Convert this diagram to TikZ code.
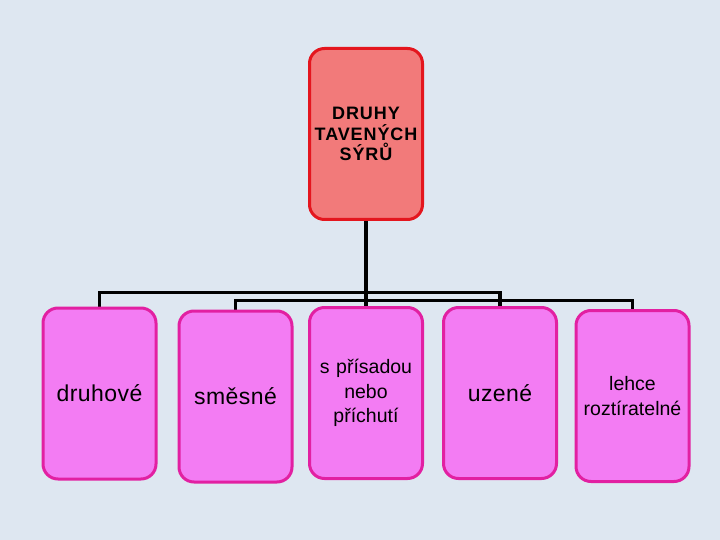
\documentclass[tikz,border=0pt]{standalone}
\usepackage{fontspec}
\setmainfont{Liberation Sans}
\newfontfamily\capsfont[LetterSpace=5]{Liberation Sans}
\newfontfamily\widefont[LetterSpace=2]{Liberation Sans}
\usetikzlibrary{backgrounds}
\definecolor{slide}{RGB}{222,231,241}
\definecolor{rootfill}{RGB}{242,122,122}
\definecolor{rootline}{RGB}{228,22,30}
\definecolor{kindfill}{RGB}{243,124,243}
\definecolor{kindline}{RGB}{226,32,162}

\begin{document}
\begin{tikzpicture}[x=1pt, y=-1pt,
  box/.style={rectangle, rounded corners=15pt, line width=3pt,
    minimum width=113pt, minimum height=171pt, inner sep=0pt,
    text width=113pt, align=center},
  root/.style={box, fill=rootfill, draw=rootline,
    font=\capsfont\fontsize{18}{20.5}\selectfont\bfseries},
  kind/.style={box, fill=kindfill, draw=kindline},
  big/.style={font=\widefont\fontsize{23}{26}\selectfont},
  small/.style={font=\fontsize{19.5}{24.5}\selectfont},
  conn/.style={black, line width=3.5pt}]
\useasboundingbox (0,0) rectangle (720,540);
% top box
\node[root] (druhy) at (366,134) {DRUHY\\TAVENÝCH\\SÝRŮ};
% kinds of cheese
\node[kind, big] (druh) at (99.5,393.5) {druhové};
\node[kind, big] (smes) at (235.5,396.5) {směsné};
\node[kind, small] (pris) at (366,393) {s přísadou\\nebo\\příchutí};
\node[kind, big] (uzen) at (500,393) {uzené};
\node[kind, small] (lehc) at (632.5,396) {lehce\\roztíratelné};
% connectors behind the boxes
\begin{scope}[on background layer]
  \fill[slide] (0,0) rectangle (720,540);
  \draw[conn] (druhy.south) -- (pris.north);
  \draw[conn] (druh.north) -- ++(0,-14) -| (uzen.north);
  \draw[conn] (smes.north) -- ++(0,-9) -| (lehc.north);
\end{scope}
\end{tikzpicture}
\end{document}
